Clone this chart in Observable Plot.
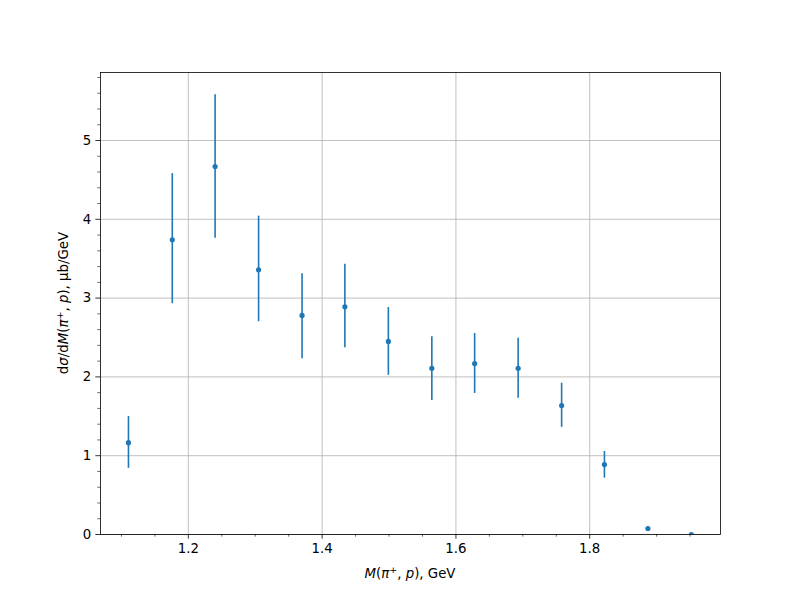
<!DOCTYPE html>
<html>
<head>
<meta charset="utf-8">
<script src="https://cdn.jsdelivr.net/npm/d3@7"></script>
<script src="https://cdn.jsdelivr.net/npm/@observablehq/plot@0.6"></script>
<style>
  html, body { margin: 0; padding: 0; background: #fff; }
  #chart svg { display: block; }
</style>
</head>
<body>
<div id="chart"></div>
<script>
const mass = [1.1105, 1.176, 1.240, 1.305, 1.370, 1.434, 1.499, 1.564, 1.628, 1.693, 1.758, 1.822, 1.887, 1.952];
const value = [1.165, 3.74, 4.67, 3.36, 2.78, 2.89, 2.45, 2.11, 2.17, 2.11, 1.637, 0.888, 0.076, 0.0];
const errLow = [0.84, 2.93, 3.76, 2.70, 2.23, 2.37, 2.02, 1.70, 1.79, 1.73, 1.36, 0.715, 0.06, 0.0];
const errHigh = [1.497, 4.58, 5.58, 4.04, 3.31, 3.43, 2.88, 2.51, 2.55, 2.49, 1.92, 1.053, 0.095, 0.0];
const xMajor = [1.2, 1.4, 1.6, 1.8];
const xMinor = [1.1, 1.15, 1.25, 1.3, 1.35, 1.45, 1.5, 1.55, 1.65, 1.7, 1.75, 1.85, 1.9, 1.95];
const yMajor = [0, 1, 2, 3, 4, 5];
const yMinor = [0.2, 0.4, 0.6, 0.8, 1.2, 1.4, 1.6, 1.8, 2.2, 2.4, 2.6, 2.8, 3.2, 3.4, 3.6, 3.8, 4.2, 4.4, 4.6, 4.8, 5.2, 5.4, 5.6, 5.8];

const data = mass.map((m, i) => ({m, v: value[i], lo: errLow[i], hi: errHigh[i]}));
const blue = "#1f77b4";
const font = "DejaVu Sans, sans-serif";

const plot = Plot.plot({
  width: 800,
  height: 600,
  marginLeft: 100,
  marginRight: 80,
  marginTop: 72,
  marginBottom: 66,
  style: {fontFamily: font, fontSize: "13.33px", color: "#000", background: "#fff"},
  x: {domain: [1.0687, 1.9955]},
  y: {domain: [0, 5.863]},
  marks: [
    Plot.gridX(xMajor, {stroke: "#b0b0b0", strokeOpacity: 1, strokeWidth: 0.8}),
    Plot.gridY(yMajor, {stroke: "#b0b0b0", strokeOpacity: 1, strokeWidth: 0.8}),
    Plot.axisX(xMajor, {tickSize: 4.67, tickPadding: 4.67, tickFormat: d => d.toFixed(1), label: null, fontSize: 13.33, stroke: "#000", strokeWidth: 0.8}),
    Plot.axisX(xMinor, {tickSize: 2.67, text: null, label: null, stroke: "#000", strokeWidth: 0.6}),
    Plot.axisY(yMajor, {tickSize: 4.67, tickPadding: 4.67, tickFormat: d => String(d), label: null, fontSize: 13.33, stroke: "#000", strokeWidth: 0.8}),
    Plot.axisY(yMinor, {tickSize: 2.67, text: null, label: null, stroke: "#000", strokeWidth: 0.6}),
    Plot.ruleX(data, {x: "m", y1: "lo", y2: "hi", stroke: blue, strokeWidth: 1.6, clip: true}),
    Plot.dot(data, {x: "m", y: "v", r: 2.6, fill: blue, stroke: "none", clip: true}),
    Plot.frame({stroke: "#000", strokeWidth: 0.8})
  ]
});

document.getElementById("chart").appendChild(plot);

const svg = d3.select(plot);
const xl = svg.append("text")
  .attr("x", 410).attr("y", 578)
  .attr("text-anchor", "middle")
  .attr("font-family", font).attr("font-size", 13.33).attr("fill", "#000");
xl.append("tspan").attr("font-style", "italic").text("M");
xl.append("tspan").text("(");
xl.append("tspan").attr("font-style", "italic").text("π");
xl.append("tspan").attr("font-size", 9.5).attr("dy", -5).text("+");
xl.append("tspan").attr("dy", 5).text(", ");
xl.append("tspan").attr("font-style", "italic").text("p");
xl.append("tspan").text("), GeV");

const yl = svg.append("text")
  .attr("transform", "translate(68,303) rotate(-90)")
  .attr("text-anchor", "middle")
  .attr("font-family", font).attr("font-size", 13.33).attr("fill", "#000");
yl.append("tspan").text("d");
yl.append("tspan").attr("font-style", "italic").text("σ");
yl.append("tspan").text("/d");
yl.append("tspan").attr("font-style", "italic").text("M");
yl.append("tspan").text("(");
yl.append("tspan").attr("font-style", "italic").text("π");
yl.append("tspan").attr("font-size", 9.5).attr("dy", -5).text("+");
yl.append("tspan").attr("dy", 5).text(", ");
yl.append("tspan").attr("font-style", "italic").text("p");
yl.append("tspan").text("), μb/GeV");
</script>
</body>
</html>
